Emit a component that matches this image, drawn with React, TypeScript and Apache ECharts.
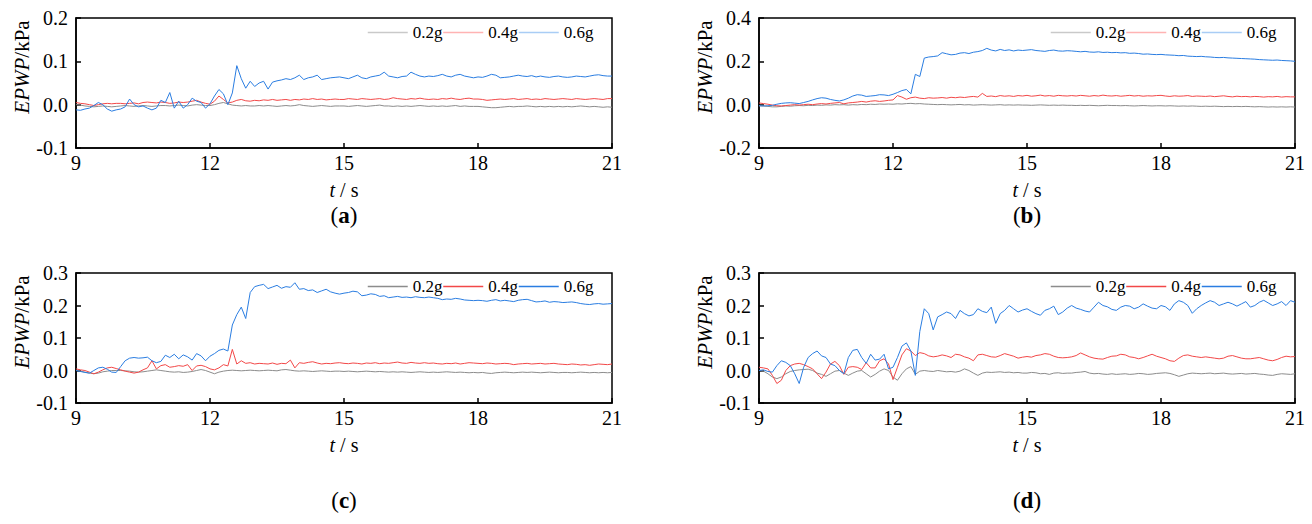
import React, { useEffect, useRef } from 'react';
import * as echarts from 'echarts';

// 采样时间 9 ~ 21 s，步长 0.1 s
const TIME = Array.from({ length: 121 }, (_, i) => +(9 + i * 0.1).toFixed(1));

const NAMES = ['0.2g', '0.4g', '0.6g'];
const PANEL_LABELS = ['a', 'b', 'c', 'd'];

// EPWP 数据，单位 0.001 kPa，每行 1 s
const a02 = [
  0, -1, -3, -4, -5, -4, -3, -4, -5, -4,
  -3, -2, -3, -4, -3, -2, -3, -4, -3, -2,
  -2, -3, -2, -1, -2, -3, -1, 0, -1, -2,
  -2, 0, 3, 5, 2, -1, -2, -3, -2, -3,
  -3, -2, -3, -2, -3, -4, -3, -2, -3, -2,
  0, -2, -3, -4, -3, -2, -3, -4, -3, -3,
  -3, -4, -3, -2, -3, -4, -3, -2, -1, -3,
  -3, -4, -3, -4, -3, -4, -3, -2, -3, -4,
  -3, -4, -3, -4, -3, -2, -4, -3, -4, -4,
  -4, -5, -6, -7, -7, -6, -5, -4, -5, -4,
  -4, -3, -4, -5, -4, -5, -4, -5, -4, -5,
  -4, -5, -4, -3, -4, -5, -4, -5, -6, -5,
  -6,
];
const a04 = [
  5, 3, 2, 0, -2, 0, 2, 3, 2, 3,
  3, 2, 3, 4, 2, 5, 6, 5, 4, 6,
  5, 3, 4, 6, 5, 6, 8, 10, 6, 3,
  1, 8, 20, 12, 4, 6, 10, 12, 9, 8,
  10, 9, 11, 10, 12, 10, 11, 12, 10, 12,
  11, 13, 12, 14, 12, 13, 11, 12, 13, 12,
  12, 14, 13, 12, 14, 13, 12, 13, 14, 12,
  13, 16, 14, 13, 12, 14, 13, 15, 13, 12,
  13, 12, 14, 13, 15, 13, 12, 14, 15, 13,
  13, 12, 10, 11, 12, 13, 12, 13, 14, 12,
  13, 14, 12, 13, 12, 14, 13, 12, 13, 14,
  13, 12, 14, 13, 12, 13, 14, 13, 12, 14,
  14,
];
const a06 = [
  -12, -13, -10, -8, -2, 5, 0, -10, -15, -12,
  -10, -5, 13, 0, -5, -3, -8, -12, -8, 10,
  5, 28, -8, 8, -8, 0, 15, 8, 5, -8,
  2, 20, 35, 25, 0, 27, 90, 60, 38, 54,
  42, 50, 54, 36, 52, 55, 57, 60, 58, 62,
  68, 58, 62, 64, 68, 58, 60, 62, 63, 64,
  62, 60, 64, 68, 62, 60, 64, 66, 68, 75,
  66, 64, 62, 65, 66, 75, 70, 66, 64, 66,
  65, 67, 70, 66, 64, 68, 70, 66, 64, 62,
  64, 63, 66, 70, 68, 62, 63, 64, 66, 68,
  66, 65, 67, 64, 66, 64, 63, 65, 66, 64,
  63, 64, 66, 65, 64, 66, 68, 69, 67, 66,
  66,
];

const b02 = [
  -5, -6, -8, -10, -10, -8, -6, -7, -5, -4,
  -5, -3, -4, -2, -3, -1, -2, 0, -1, 0,
  -2, 0, -1, 1, 0, 2, 1, 3, 2, 3,
  2, 4, 3, 5, 6, 4, 5, 3, 2, 1,
  0, 1, 0, -1, 0, 1, -1, 0, -2, -1,
  0, -1, -2, -1, 0, -2, -1, -2, -1, -2,
  -2, -3, -2, -1, -2, -3, -2, -3, -2, -3,
  -3, -4, -3, -4, -3, -4, -5, -4, -3, -4,
  -4, -5, -4, -5, -6, -5, -4, -5, -6, -5,
  -5, -6, -5, -6, -7, -6, -7, -6, -7, -8,
  -7, -8, -7, -8, -9, -8, -9, -8, -9, -8,
  -9, -10, -9, -10, -11, -10, -11, -10, -11, -10,
  -11,
];
const b04 = [
  8, 5, 2, -2, -5, -6, -4, -2, 0, -2,
  0, 2, 0, 3, 5, 3, 6, 8, 10, 4,
  8, 10, 12, 15, 12, 16, 18, 15, 17, 20,
  22, 42, 35, 25, 32, 35, 30, 28, 32, 30,
  31, 33, 30, 34, 32, 35, 33, 36, 38, 35,
  52, 38, 40, 37, 42, 39, 41, 38, 42, 40,
  43, 39, 41, 44, 40, 42, 39, 43, 41, 40,
  42, 40, 43, 41, 39, 42, 40, 44, 41, 40,
  42, 39, 41, 43, 40, 42, 39, 41, 40, 42,
  43, 40, 38, 41, 39, 40, 42, 38, 40, 39,
  38, 40, 37, 39, 41, 38, 36, 39, 37, 38,
  36, 38, 37, 35, 37, 36, 38, 35, 37, 36,
  36,
];
const b06 = [
  -5, -6, -5, -3, 2, 6, 8, 9, 7, 5,
  10, 15, 22, 28, 32, 30, 24, 20, 17, 22,
  30, 40, 46, 44, 38, 40, 42, 46, 45, 42,
  48, 56, 65, 70, 50, 140, 130, 215, 220, 222,
  225, 240, 235, 230, 232, 238, 240, 236, 242, 245,
  250, 260, 252, 248, 255, 250, 253, 248, 252, 250,
  252, 254, 250, 248, 246, 250, 252, 248, 247, 249,
  248, 246, 244, 246, 243, 242, 244, 241, 242, 240,
  241, 239, 240, 237, 238, 236, 233, 234, 232, 231,
  232, 230, 229, 228, 226, 227, 224, 223, 222, 223,
  221, 220, 218, 217, 218, 216, 215, 214, 213, 212,
  211, 210, 208, 207, 206, 205, 206, 204, 203, 202,
  200,
];

const c02 = [
  0, -2, -5, -8, -10, -8, -4, -2, 0, 0,
  0, -1, -2, -4, -5, -4, -2, 0, 2, 0,
  -2, -4, -5, -4, -6, -5, -3, 0, 3, 0,
  -5, -10, -5, -2, 0, 1, 0, -1, 0, 1,
  0, -1, 0, 1, 0, -1, 2, 3, 1, -1,
  -2, -1, -2, -3, -2, -1, -2, -3, -2, -2,
  -3, -2, -3, -4, -3, -2, -3, -4, -3, -4,
  -5, -4, -5, -4, -5, -6, -5, -4, -5, -6,
  -5, -6, -5, -4, -5, -6, -5, -6, -7, -6,
  -7, -6, -8, -9, -7, -6, -5, -6, -7, -6,
  -5, -6, -5, -6, -7, -6, -5, -6, -7, -6,
  -6, -7, -6, -5, -6, -7, -6, -7, -6, -7,
  -6,
];
const c04 = [
  5, 2, 0, -5, -10, -5, 2, 8, 10, 6,
  2, -2, -5, -8, -5, 2, 8, 30, 5, 15,
  18, 10, 12, 15, 13, 18, 0, 14, 16, 12,
  5, 2, 8, 18, 14, 65, 20, 30, 22, 24,
  20, 22, 21, 20, 23, 19, 22, 21, 32, 8,
  24, 22, 25, 27, 23, 20, 22, 21, 23, 24,
  22, 21, 23, 22, 20, 23, 22, 24, 21, 23,
  22, 24, 26, 23, 22, 25, 23, 22, 24, 22,
  23, 21, 20, 22, 21, 23, 20, 22, 24, 23,
  22, 21, 23, 22, 20, 21, 22, 21, 18, 20,
  21, 22, 20, 21, 22, 20, 21, 22, 20, 19,
  18, 20, 19, 17, 18, 16, 18, 20, 19, 18,
  20,
];
const c06 = [
  0, -3, -6, -8, 0, 8, 10, 4, -5, -6,
  12, 30, 38, 40, 38, 39, 41, 30, 24, 28,
  47, 40, 50, 36, 48, 42, 32, 52, 45, 30,
  44, 52, 62, 66, 60, 140, 172, 195, 160, 240,
  258, 262, 265, 252, 257, 262, 253, 258, 256, 270,
  250, 252, 246, 248, 240, 245, 250, 242, 238, 235,
  238, 240, 244, 242, 230, 232, 236, 234, 228, 230,
  224, 226, 228, 225, 226, 224, 227, 225, 224, 226,
  224, 222, 218, 220, 219, 222, 220, 217, 216, 215,
  216, 215, 213, 216, 218, 214, 216, 214, 212, 216,
  218, 219, 215, 211, 212, 214, 210, 212, 211, 209,
  210, 211, 209, 206, 204, 203, 205, 206, 204, 205,
  206,
];

const d02 = [
  0, -2, -10, -20, -25, -20, -10, -3, 0, 2,
  3, 4, 0, -8, -12, -18, -10, -2, 0, -8,
  -15, -8, -2, 0, -10, -20, -12, -2, 5, 0,
  -20, -30, -10, 5, 12, -12, -2, 0, -2, -3,
  0, -2, -4, -3, -5, -2, 5, 0, -8, -15,
  -8, -5, -6, -5, -4, -6, -5, -7, -6, -8,
  -8, -6, -7, -10, -9, -12, -8, -7, -9, -8,
  -8, -6, -5, -3, -8, -10, -9, -11, -12, -10,
  -12, -11, -10, -12, -11, -9, -10, -12, -11, -9,
  -8, -7, -9, -13, -18, -14, -10, -8, -9, -10,
  -9, -8, -10, -9, -8, -10, -11, -10, -9, -11,
  -10, -9, -11, -12, -14, -15, -12, -10, -11, -12,
  -10,
];
const d04 = [
  10, 8, 5, -15, -40, -30, 0, 15, 20, 22,
  18, 12, 5, -10, -25, -5, 20, 28, 15, -12,
  10, 12, 10, 3, 24, 8, 8, 30, 36, 20,
  -28, 10, 48, 67, 60, 46, 55, 52, 45, 42,
  44, 48, 45, 40, 50, 48, 42, 38, 30, 48,
  50, 46, 42, 41, 46, 52, 48, 44, 38, 41,
  43, 41, 46, 48, 52, 50, 44, 40, 39, 40,
  42, 46, 54, 48, 42, 38, 36, 35, 40, 44,
  45, 50, 48, 42, 40, 36, 40, 45, 50, 44,
  40, 36, 30, 28, 38, 46, 48, 44, 42, 40,
  42, 40, 38, 36, 38, 44, 46, 42, 38, 36,
  36, 38, 40, 36, 32, 30, 34, 40, 44, 42,
  43,
];
const d06 = [
  0, 2, -3, -5, 15, 30, 25, 15, -10, -40,
  10, 40, 52, 60, 45, 40, 20, 15, 0, -10,
  40, 62, 65, 40, 22, 50, 32, 35, 50, 5,
  10, 40, 75, 85, 60, -15, 120, 190, 175, 125,
  165, 172, 180, 175, 160, 185, 175, 168, 172, 190,
  182, 178, 195, 145, 175, 185, 200, 190, 180, 186,
  190, 182, 175, 170, 185, 190, 198, 172, 180, 192,
  200, 192, 188, 183, 180, 195, 210, 200, 196, 188,
  185, 195, 200, 198, 190, 195, 205, 198, 192, 190,
  200, 196, 185, 205, 215, 210, 200, 176, 190, 200,
  208, 215, 210, 200, 205, 210, 205, 198, 205, 212,
  195, 200, 210, 216, 208, 200, 205, 212, 200, 215,
  210,
];

const PANEL_DATA = [
  [a02, a04, a06],
  [b02, b04, b06],
  [c02, c04, c06],
  [d02, d04, d06],
];
const Y_MIN = [-0.1, -0.2, -0.1, -0.1];
const Y_MAX = [0.2, 0.4, 0.3, 0.3];
const Y_STEP = [0.1, 0.2, 0.1, 0.1];

// 布局
const FONT = 'Liberation Serif, Times New Roman, serif';
const GRIDS = [
  { left: 76, top: 18 },
  { left: 759, top: 18 },
  { left: 76, top: 273 },
  { left: 759, top: 273 },
];
const GRID_W = 536;
const GRID_H = 130;
const LINE_COLORS = ['#8c8c8c', '#f24848', '#2a7de1'];
const LEGEND_FADED = ['#c9c9c9', '#ffb3b3', '#a9cdf5'];
const LEGEND_POS = [
  { left: 367, top: 24, colors: LEGEND_FADED },
  { left: 1050, top: 24, colors: LEGEND_FADED },
  { left: 367, top: 278, colors: LINE_COLORS },
  { left: 1050, top: 278, colors: LINE_COLORS },
];
const LABEL_Y = [215, 215, 500, 500];

const AXIS_RICH = {
  v: { fontFamily: FONT, fontSize: 20, color: '#000' },
  i: { fontFamily: FONT, fontSize: 20, fontStyle: 'italic', color: '#000' },
  n: { fontFamily: FONT, fontSize: 20, color: '#000' },
};
// y 轴标题：开头留一段空白，使文字整体上移
const Y_NAME_RICH = {
  s: { fontFamily: FONT, fontSize: 21, width: 32, color: 'transparent' },
  i: { fontFamily: FONT, fontSize: 21, fontStyle: 'italic', color: '#000' },
  n: { fontFamily: FONT, fontSize: 21, color: '#000' },
};

const App: React.FC = () => {
  const chartRef = useRef<HTMLDivElement>(null);

  useEffect(() => {
    if (!chartRef.current) return;
    const chart = echarts.init(chartRef.current, undefined, { renderer: 'svg' });

    const grid = GRIDS.map(g => ({
      left: g.left,
      top: g.top,
      width: GRID_W,
      height: GRID_H,
      show: true,
      borderColor: '#000',
      borderWidth: 1.5,
      backgroundColor: 'transparent',
    }));

    const xAxis = GRIDS.map((_, p) => ({
      type: 'value',
      gridIndex: p,
      min: 9,
      max: 21,
      interval: 3,
      name: '{i|t}{n| / s}',
      nameLocation: 'middle',
      nameGap: 32,
      nameTextStyle: { fontFamily: FONT, fontSize: 20, color: '#000', rich: AXIS_RICH },
      axisLine: { show: true, onZero: false, lineStyle: { color: '#000', width: 1.5 } },
      axisTick: { inside: true, length: 5, lineStyle: { color: '#000', width: 1.5 } },
      axisLabel: {
        fontFamily: FONT,
        fontSize: 20,
        color: '#000',
        margin: 5,
        formatter: (v: number) => `{v|${v}}`,
        rich: AXIS_RICH,
      },
      splitLine: { show: false },
    }));

    const yAxis = GRIDS.map((_, p) => ({
      type: 'value',
      gridIndex: p,
      min: Y_MIN[p],
      max: Y_MAX[p],
      interval: Y_STEP[p],
      name: '{s| }{i|EPWP}{n|/kPa}',
      nameLocation: 'middle',
      nameGap: 44,
      nameMoveOverlap: false,
      nameTextStyle: { fontFamily: FONT, fontSize: 21, color: '#000', rich: Y_NAME_RICH },
      axisLine: { show: true, onZero: false, lineStyle: { color: '#000', width: 1.5 } },
      axisTick: { inside: true, length: 5, lineStyle: { color: '#000', width: 1.5 } },
      axisLabel: {
        fontFamily: FONT,
        fontSize: 20,
        color: '#000',
        margin: 8,
        formatter: (v: number) => `{v|${v.toFixed(1)}}`,
        rich: AXIS_RICH,
      },
      splitLine: { show: false },
    }));

    const series: any[] = [];
    PANEL_DATA.forEach((group, p) => {
      group.forEach((vals, j) => {
        series.push({
          type: 'line',
          name: NAMES[j],
          xAxisIndex: p,
          yAxisIndex: p,
          data: TIME.map((t, k) => [t, vals[k] / 1000]),
          symbol: 'none',
          showSymbol: false,
          silent: true,
          lineStyle: { width: 1, color: LINE_COLORS[j] },
          itemStyle: { color: LINE_COLORS[j] },
        });
      });
    });

    // 图例只画线段，圆点符号设为透明
    const legend = LEGEND_POS.map(l => ({
      left: l.left,
      top: l.top,
      orient: 'horizontal',
      padding: 0,
      itemGap: 0,
      itemWidth: 40,
      itemHeight: 10,
      selectedMode: false,
      textStyle: { fontFamily: FONT, fontSize: 17, color: '#000' },
      data: NAMES.map((n, j) => ({
        name: n,
        itemStyle: { color: l.colors[j], opacity: 0, borderWidth: 0 },
        lineStyle: { color: l.colors[j], width: 1.5, opacity: 1 },
      })),
    }));

    const title = PANEL_LABELS.map((lab, p) => ({
      text: `({b|${lab}})`,
      left: GRIDS[p].left + GRID_W / 2,
      top: LABEL_Y[p],
      textAlign: 'center',
      textVerticalAlign: 'middle',
      padding: 0,
      textStyle: {
        fontFamily: FONT,
        fontSize: 23,
        fontWeight: 'normal',
        color: '#000',
        rich: { b: { fontFamily: FONT, fontSize: 23, fontWeight: 'bold', color: '#000' } },
      },
    }));

    const option: any = {
      animation: false,
      backgroundColor: '#fff',
      textStyle: { fontFamily: FONT, fontSize: 20, color: '#000' },
      title,
      legend,
      grid,
      xAxis,
      yAxis,
      series,
    };

    chart.setOption(option);

    return () => {
      chart.dispose();
    };
  }, []);

  return (
    <div
      ref={chartRef}
      style={{ position: 'fixed', left: 0, top: 0, width: '1312px', height: '524px' }}
    />
  );
};

export default App;
